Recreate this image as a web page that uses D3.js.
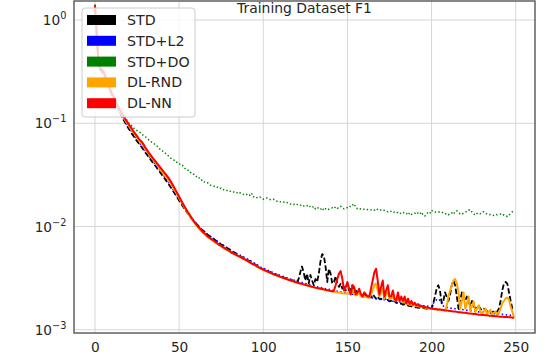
<!DOCTYPE html>
<html>
<head>
<meta charset="utf-8">
<script src="https://cdn.jsdelivr.net/npm/d3@7"></script>
<style>
  body { margin: 0; background: #fff; }
  text { font-family: "DejaVu Sans", sans-serif; fill: #262626; }
</style>
</head>
<body>
<div id="chart"></div>
<script>
// chart data (loss per epoch, 250 epochs)
var title = "Training Dataset F1";
var seriesNames = ["STD", "STD+L2", "STD+DO", "DL-RND", "DL-NN"];
var xTicks = [0, 50, 100, 150, 200, 250];
var yTicks = [1, 0.1, 0.01, 0.001];
var yTickExp = ["0", "\u22121", "\u22122", "\u22123"];

var lossSTD = [
  1.35, 0.75, 0.40, 0.33, 0.32, 0.30, 0.275, 0.25, 0.225, 0.205,
  0.187, 0.172, 0.158, 0.146, 0.135, 0.125, 0.116, 0.108, 0.101, 0.095,
  0.089, 0.084, 0.079, 0.075, 0.071, 0.067, 0.064, 0.061, 0.058, 0.055,
  0.052, 0.0495, 0.047, 0.0447, 0.0425, 0.0405, 0.0385, 0.0366, 0.0348, 0.0331,
  0.0314, 0.0298, 0.0283, 0.0268, 0.0254, 0.024, 0.0227, 0.0214, 0.0202, 0.019,
  0.0179, 0.0169, 0.0159, 0.015, 0.0142, 0.0135, 0.0128, 0.0122, 0.0117, 0.0112,
  0.0107, 0.0103, 0.0099, 0.0095, 0.0092, 0.0089, 0.0086, 0.0083, 0.0081, 0.0079,
  0.0077, 0.0075, 0.0073, 0.0071, 0.0069, 0.0067, 0.0066, 0.0064, 0.0063, 0.0061,
  0.006, 0.0058, 0.0057, 0.0056, 0.0054, 0.0053, 0.0052, 0.0051, 0.005, 0.0049,
  0.0048, 0.0047, 0.0046, 0.0045, 0.0044, 0.0043, 0.0042, 0.0041, 0.004, 0.0039,
  0.00387, 0.0038, 0.00374, 0.00368, 0.00362, 0.00356, 0.0035, 0.00345, 0.0034, 0.00335,
  0.0033, 0.00325, 0.00321, 0.00317, 0.00313, 0.00309, 0.00305, 0.00302, 0.00299, 0.00296,
  0.0029, 0.0031, 0.0036, 0.0041, 0.0036, 0.003, 0.0035, 0.0028, 0.0034, 0.003,
  0.0027, 0.0031, 0.0029, 0.0035, 0.0046, 0.0054, 0.0052, 0.0041, 0.0029, 0.0039,
  0.0035, 0.0028, 0.0029, 0.0033, 0.0028, 0.0026, 0.0028, 0.0025, 0.0027, 0.0024,
  0.0028, 0.0024, 0.0025, 0.0027, 0.0023, 0.0024, 0.0022, 0.0024, 0.0022, 0.0021,
  0.0023, 0.0021, 0.0022, 0.0021, 0.00205, 0.0022, 0.0021, 0.002, 0.0021, 0.00198,
  0.002, 0.00195, 0.0021, 0.0019, 0.00195, 0.00188, 0.0019, 0.00185, 0.0019, 0.00182,
  0.00182, 0.00178, 0.0018, 0.00175, 0.00176, 0.00172, 0.00172, 0.00169, 0.00169, 0.00167,
  0.00166, 0.00165, 0.00164, 0.00163, 0.00163, 0.00162, 0.00161, 0.0016, 0.0016, 0.00159,
  0.0016, 0.0018, 0.0021, 0.0025, 0.0027, 0.0024, 0.0018, 0.0019, 0.0023, 0.0021,
  0.0019, 0.0022, 0.0027, 0.003, 0.0027, 0.0021, 0.0016, 0.0019, 0.0023, 0.0021,
  0.0019, 0.0021, 0.0019, 0.0017, 0.0019, 0.0017, 0.0016, 0.0017, 0.0017, 0.0016,
  0.00155, 0.0016, 0.00158, 0.0015, 0.00155, 0.0015, 0.00148, 0.0015, 0.00146, 0.0015,
  0.0016, 0.0019, 0.0024, 0.0028, 0.0029, 0.0028, 0.0023, 0.0019, 0.0016, 0.00155
];

var lossL2 = [
  1.36, 0.76, 0.41, 0.335, 0.325, 0.305, 0.28, 0.252, 0.228, 0.208,
  0.19, 0.175, 0.161, 0.149, 0.138, 0.128, 0.119, 0.111, 0.104, 0.098,
  0.092, 0.087, 0.082, 0.078, 0.074, 0.07, 0.066, 0.063, 0.06, 0.057,
  0.054, 0.051, 0.0485, 0.046, 0.0438, 0.0417, 0.0397, 0.0378, 0.036, 0.0343,
  0.0326, 0.031, 0.0294, 0.0279, 0.0265, 0.025, 0.0236, 0.0222, 0.0209, 0.0197,
  0.0185, 0.0174, 0.0164, 0.0154, 0.0146, 0.0138, 0.0131, 0.0124, 0.0118, 0.0113,
  0.0108, 0.0103, 0.0099, 0.0095, 0.0092, 0.0089, 0.0086, 0.0083, 0.0081, 0.0079,
  0.0077, 0.0075, 0.0073, 0.0071, 0.0069, 0.0067, 0.0066, 0.0064, 0.0063, 0.0061,
  0.006, 0.0058, 0.0057, 0.0056, 0.0055, 0.0054, 0.0053, 0.0052, 0.0051, 0.005,
  0.0049, 0.0048, 0.0047, 0.0046, 0.0045, 0.0044, 0.0043, 0.0042, 0.0041, 0.004,
  0.00395, 0.00388, 0.00381, 0.00375, 0.00369, 0.00363, 0.00357, 0.00351, 0.00346, 0.00341,
  0.00336, 0.00331, 0.00327, 0.00322, 0.00318, 0.00314, 0.0031, 0.00306, 0.00302, 0.00299,
  0.00296, 0.00292, 0.00289, 0.00286, 0.00283, 0.0028, 0.00277, 0.00274, 0.00271, 0.00269,
  0.00266, 0.00264, 0.00261, 0.00259, 0.00257, 0.00254, 0.00252, 0.0025, 0.00248, 0.00246,
  0.00244, 0.00242, 0.0024, 0.00238, 0.00236, 0.00234, 0.00232, 0.00231, 0.00229, 0.00227,
  0.00226, 0.00224, 0.00222, 0.00221, 0.00219, 0.00218, 0.00216, 0.00215, 0.00213, 0.00212,
  0.0021, 0.00209, 0.00207, 0.00206, 0.00205, 0.00203, 0.00202, 0.00201, 0.00199, 0.00198,
  0.00197, 0.00196, 0.00195, 0.00193, 0.00192, 0.00191, 0.0019, 0.00189, 0.00188, 0.00187,
  0.00186, 0.00185, 0.00184, 0.00183, 0.00182, 0.00181, 0.0018, 0.00179, 0.00178, 0.00177,
  0.00176, 0.00175, 0.00174, 0.00173, 0.00172, 0.00171, 0.0017, 0.0017, 0.00169, 0.00168,
  0.00168, 0.0018, 0.0019, 0.00195, 0.0019, 0.00195, 0.0019, 0.0017, 0.00165, 0.00164,
  0.00163, 0.00162, 0.00161, 0.0016, 0.0016, 0.00159, 0.00158, 0.00157, 0.00157, 0.00156,
  0.00155, 0.00154, 0.00154, 0.00153, 0.00152, 0.00151, 0.00151, 0.0015, 0.00149, 0.00149,
  0.00148, 0.00147, 0.00147, 0.00146, 0.00145, 0.00145, 0.00144, 0.00144, 0.00143, 0.00142,
  0.00142, 0.00141, 0.00141, 0.0014, 0.0014, 0.00139, 0.00139, 0.00138, 0.00138, 0.00137
];

var lossDO = [
  1.42, 0.8, 0.43, 0.345, 0.335, 0.315, 0.285, 0.255, 0.23, 0.21,
  0.193, 0.178, 0.165, 0.154, 0.144, 0.135, 0.127, 0.12, 0.113, 0.107,
  0.101, 0.097, 0.094, 0.09, 0.087, 0.085, 0.083, 0.081, 0.078, 0.076,
  0.074, 0.072, 0.069, 0.067, 0.065, 0.064, 0.061, 0.06, 0.058, 0.055,
  0.054, 0.053, 0.051, 0.049, 0.048, 0.046, 0.045, 0.044, 0.042, 0.042,
  0.041, 0.039, 0.039, 0.037, 0.036, 0.035, 0.035, 0.033, 0.032, 0.032,
  0.031, 0.0294, 0.0295, 0.028, 0.0282, 0.027, 0.0263, 0.0265, 0.0255, 0.025,
  0.0248, 0.0245, 0.0238, 0.024, 0.0233, 0.0235, 0.0227, 0.0229, 0.0226, 0.022,
  0.0222, 0.0217, 0.0218, 0.0213, 0.0215, 0.0209, 0.0213, 0.0207, 0.0204, 0.0208,
  0.0205, 0.0198, 0.0201, 0.0211, 0.0194, 0.0196, 0.0191, 0.0189, 0.0193, 0.0187,
  0.0184, 0.0187, 0.0189, 0.0186, 0.0183, 0.0181, 0.0184, 0.0179, 0.0176, 0.0177,
  0.0174, 0.0172, 0.0173, 0.0169, 0.0171, 0.0167, 0.0165, 0.0166, 0.0163, 0.0167,
  0.0164, 0.0162, 0.016, 0.0163, 0.0158, 0.0161, 0.0159, 0.0162, 0.0155, 0.0152,
  0.0157, 0.0148, 0.0153, 0.015, 0.0146, 0.0152, 0.0143, 0.0149, 0.0145, 0.0147,
  0.0148, 0.0152, 0.0149, 0.0155, 0.015, 0.0153, 0.0157, 0.0151, 0.0148, 0.0149,
  0.0153, 0.0158, 0.0155, 0.0161, 0.0166, 0.0152, 0.0149, 0.0151, 0.0147, 0.0146,
  0.0147, 0.0145, 0.0146, 0.0146, 0.0145, 0.0147, 0.0144, 0.0149, 0.0146, 0.0143,
  0.0145, 0.0146, 0.0143, 0.0141, 0.0139, 0.0142, 0.014, 0.0136, 0.0138, 0.0135,
  0.0137, 0.0133, 0.0135, 0.0138, 0.0133, 0.0134, 0.0129, 0.0136, 0.0131, 0.0133,
  0.0135, 0.0131, 0.0136, 0.0132, 0.0138, 0.0129, 0.0126, 0.0133, 0.0137, 0.0134,
  0.0144, 0.0139, 0.0138, 0.0138, 0.0139, 0.0137, 0.0138, 0.0135, 0.0132, 0.0134,
  0.013, 0.0133, 0.0136, 0.0131, 0.0139, 0.0142, 0.0136, 0.0133, 0.0131, 0.0135,
  0.0137, 0.0141, 0.0144, 0.0146, 0.0138, 0.0133, 0.0129, 0.0134, 0.0136, 0.0133,
  0.0137, 0.0139, 0.0135, 0.0132, 0.013, 0.0131, 0.0129, 0.0128, 0.0131, 0.013,
  0.0131, 0.0132, 0.0128, 0.013, 0.0127, 0.0125, 0.0129, 0.0134, 0.0139, 0.0137
];

var lossRND = [
  1.38, 0.76, 0.41, 0.335, 0.33, 0.315, 0.285, 0.255, 0.23, 0.21,
  0.193, 0.178, 0.164, 0.152, 0.141, 0.131, 0.122, 0.114, 0.107, 0.101,
  0.095, 0.09, 0.085, 0.081, 0.077, 0.073, 0.069, 0.066, 0.063, 0.06,
  0.056, 0.053, 0.0505, 0.048, 0.0456, 0.0434, 0.0413, 0.0393, 0.0374, 0.0356,
  0.0339, 0.0322, 0.0306, 0.0291, 0.0276, 0.026, 0.0245, 0.023, 0.0216, 0.0202,
  0.0189, 0.0177, 0.0166, 0.0155, 0.0146, 0.0137, 0.0129, 0.0122, 0.0115, 0.0109,
  0.0104, 0.0099, 0.0095, 0.0091, 0.0088, 0.0085, 0.0082, 0.0079, 0.0077, 0.0075,
  0.0073, 0.0071, 0.0069, 0.0068, 0.0066, 0.0064, 0.0063, 0.0061, 0.006, 0.0059,
  0.0057, 0.0056, 0.0055, 0.0054, 0.0053, 0.0052, 0.0051, 0.005, 0.0049, 0.0048,
  0.0047, 0.0046, 0.0045, 0.0044, 0.0043, 0.0042, 0.00412, 0.00403, 0.00395, 0.00388,
  0.00381, 0.00375, 0.00368, 0.00362, 0.00356, 0.0035, 0.00345, 0.0034, 0.00335, 0.0033,
  0.00325, 0.0032, 0.00316, 0.00312, 0.00308, 0.00304, 0.003, 0.00297, 0.00293, 0.0029,
  0.00286, 0.00283, 0.0028, 0.00277, 0.00274, 0.00271, 0.00268, 0.00265, 0.00263, 0.0026,
  0.00258, 0.00255, 0.00253, 0.00251, 0.00249, 0.00247, 0.00245, 0.00243, 0.00241, 0.00239,
  0.00237, 0.00235, 0.00234, 0.00232, 0.0023, 0.00229, 0.00228, 0.00226, 0.00225, 0.00224,
  0.00223, 0.0023, 0.0022, 0.0024, 0.0022, 0.00215, 0.0022, 0.0023, 0.0021, 0.00208,
  0.0021, 0.00207, 0.00205, 0.00204, 0.0022, 0.0024, 0.0027, 0.0028, 0.0024, 0.0021,
  0.0023, 0.0025, 0.002, 0.0022, 0.0023, 0.00198, 0.002, 0.0021, 0.00193, 0.0019,
  0.0021, 0.00188, 0.002, 0.00185, 0.0019, 0.00178, 0.0018, 0.00174, 0.00177, 0.00171,
  0.00175, 0.00169, 0.0017, 0.00166, 0.00167, 0.00164, 0.00164, 0.00162, 0.00161, 0.0016,
  0.0016, 0.00159, 0.00158, 0.00157, 0.00156, 0.00156, 0.00155, 0.00154, 0.00154, 0.0017,
  0.0021, 0.0024, 0.0027, 0.003, 0.0031, 0.0028, 0.0023, 0.0016, 0.0019, 0.0023,
  0.0016, 0.0018, 0.0021, 0.00152, 0.0017, 0.00188, 0.00148, 0.0016, 0.00173, 0.0015,
  0.00143, 0.0015, 0.0016, 0.00142, 0.0015, 0.00156, 0.0014, 0.00146, 0.0015, 0.00139,
  0.00147, 0.0016, 0.0018, 0.0019, 0.00202, 0.00205, 0.00195, 0.00168, 0.0015, 0.0013
];

var lossNN = [
  1.40, 0.78, 0.42, 0.34, 0.335, 0.32, 0.29, 0.26, 0.235, 0.215,
  0.197, 0.182, 0.168, 0.156, 0.145, 0.134, 0.125, 0.117, 0.110, 0.104,
  0.098, 0.093, 0.088, 0.083, 0.079, 0.075, 0.071, 0.068, 0.066, 0.062,
  0.058, 0.055, 0.052, 0.0495, 0.047, 0.0448, 0.0427, 0.0407, 0.0388, 0.037,
  0.0353, 0.0337, 0.0321, 0.0306, 0.0291, 0.0274, 0.0257, 0.024, 0.0224, 0.0209,
  0.0195, 0.0182, 0.017, 0.0159, 0.0149, 0.014, 0.0132, 0.0124, 0.0117, 0.0111,
  0.0106, 0.0101, 0.0097, 0.0093, 0.0089, 0.0086, 0.0083, 0.008, 0.0078, 0.0076,
  0.0074, 0.0072, 0.007, 0.0068, 0.0066, 0.0065, 0.0063, 0.0062, 0.006, 0.0059,
  0.0058, 0.0056, 0.0055, 0.0054, 0.0053, 0.0052, 0.0051, 0.005, 0.0049, 0.0048,
  0.0047, 0.0046, 0.0045, 0.0044, 0.0043, 0.00425, 0.00415, 0.00405, 0.00397, 0.0039,
  0.00383, 0.00377, 0.0037, 0.00364, 0.00358, 0.00352, 0.00347, 0.00341, 0.00336, 0.00331,
  0.00327, 0.00322, 0.00318, 0.00313, 0.00309, 0.00305, 0.00301, 0.00298, 0.00294, 0.0029,
  0.00287, 0.00284, 0.00281, 0.00278, 0.00275, 0.00272, 0.00269, 0.00266, 0.00264, 0.00261,
  0.00259, 0.00256, 0.00254, 0.00252, 0.0025, 0.00248, 0.00246, 0.00244, 0.00242, 0.0024,
  0.00238, 0.00236, 0.0024, 0.0027, 0.0031, 0.0035, 0.0037, 0.0031, 0.0024, 0.0026,
  0.0029, 0.0025, 0.0022, 0.0027, 0.0026, 0.0022, 0.0023, 0.0025, 0.0022, 0.0021,
  0.0023, 0.0022, 0.0021, 0.0021, 0.0025, 0.003, 0.0036, 0.0039, 0.003, 0.0022,
  0.0026, 0.003, 0.0021, 0.0024, 0.0027, 0.0021, 0.0021, 0.0024, 0.002, 0.0019,
  0.0023, 0.0019, 0.0021, 0.0019, 0.0021, 0.0018, 0.002, 0.00178, 0.0019, 0.00175,
  0.00183, 0.00172, 0.00177, 0.00168, 0.00171, 0.00166, 0.00167, 0.00164, 0.00163, 0.00162,
  0.00161, 0.0016, 0.00159, 0.00158, 0.00157, 0.00157, 0.00156, 0.00155, 0.00154, 0.00154,
  0.00153, 0.00152, 0.00151, 0.0015, 0.0015, 0.00149, 0.00148, 0.00148, 0.00147, 0.00146,
  0.00146, 0.00145, 0.00144, 0.00144, 0.00143, 0.00142, 0.00142, 0.00141, 0.0014, 0.0014,
  0.00139, 0.00139, 0.00138, 0.00138, 0.00137, 0.00137, 0.00136, 0.00136, 0.00135, 0.00135,
  0.00134, 0.00134, 0.00134, 0.00133, 0.00133, 0.00133, 0.00132, 0.00132, 0.00131, 0.00131
];

// svg size and plot box
var svgWidth = 552;
var svgHeight = 356;
var margin = { top: 1, right: 17, bottom: 23, left: 74 };
var width = svgWidth - margin.left - margin.right;
var height = svgHeight - margin.top - margin.bottom;

var svg = d3.select("#chart")
  .append("svg")
  .attr("width", svgWidth)
  .attr("height", svgHeight);

var chartGroup = svg.append("g")
  .attr("transform", `translate(${margin.left}, ${margin.top})`);

// scales
var xScale = d3.scaleLinear()
  .domain([-12.45, 261.45])
  .range([0, width]);

var yScale = d3.scaleLog()
  .domain([0.00093, 1.53])
  .range([height, 0]);

// grid lines
chartGroup.append("g")
  .selectAll("line.vgrid")
  .data(xTicks)
  .enter()
  .append("line")
  .attr("x1", d => xScale(d))
  .attr("x2", d => xScale(d))
  .attr("y1", 0)
  .attr("y2", height)
  .attr("stroke", "#d6d6d6")
  .attr("stroke-width", 1);

chartGroup.append("g")
  .selectAll("line.hgrid")
  .data(yTicks)
  .enter()
  .append("line")
  .attr("x1", 0)
  .attr("x2", width)
  .attr("y1", d => yScale(d))
  .attr("y2", d => yScale(d))
  .attr("stroke", "#d6d6d6")
  .attr("stroke-width", 1);

// x axis labels
var xAxis = chartGroup.append("g")
  .attr("transform", `translate(0, ${height})`)
  .call(d3.axisBottom(xScale).tickValues(xTicks).tickSize(0).tickPadding(9));
xAxis.select(".domain").remove();
xAxis.selectAll("text")
  .attr("font-size", "13.7px")
  .attr("font-family", "DejaVu Sans, sans-serif")
  .attr("fill", "#262626");

// y axis labels, 10 with superscript exponent
var yLabels = chartGroup.append("g")
  .selectAll("text")
  .data(yTicks)
  .enter()
  .append("text")
  .attr("x", -7.5)
  .attr("y", d => yScale(d) + 5)
  .attr("text-anchor", "end")
  .attr("font-size", "13.7px");
yLabels.append("tspan").text("10");
yLabels.append("tspan")
  .attr("dy", "-6")
  .attr("font-size", "9.8px")
  .text((d, i) => yTickExp[i]);

// clip for lines
chartGroup.append("clipPath")
  .attr("id", "plotClip")
  .append("rect")
  .attr("width", width)
  .attr("height", height);

var epochs = d3.range(lossSTD.length);
var seriesData = [lossSTD, lossL2, lossDO, lossRND, lossNN];
var colors = ["#000000", "#0000ff", "#008000", "#ffa500", "#ff0000"];
var dashes = ["5.5,2.4", "1.5,2.5", "1.4,2.3", null, null];
var widths = [1.8, 1.6, 1.5, 2, 2];

var line = d3.line()
  .x((d, i) => xScale(epochs[i]))
  .y(d => yScale(d));

var linesGroup = chartGroup.append("g")
  .attr("clip-path", "url(#plotClip)");

seriesData.forEach(function(vals, k) {
  linesGroup.append("path")
    .datum(vals)
    .attr("fill", "none")
    .attr("stroke", colors[k])
    .attr("stroke-width", widths[k])
    .attr("stroke-dasharray", dashes[k])
    .attr("stroke-linejoin", "round")
    .attr("d", line);
});

// spines
chartGroup.append("rect")
  .attr("width", width)
  .attr("height", height)
  .attr("fill", "none")
  .attr("stroke", "#555555")
  .attr("stroke-width", 1.4);

// title sits inside the top of the box
chartGroup.append("text")
  .attr("x", width / 2)
  .attr("y", 11.5)
  .attr("text-anchor", "middle")
  .attr("font-size", "13.9px")
  .text(title);

// legend
var legend = chartGroup.append("g")
  .attr("transform", "translate(8, 7)");

legend.append("rect")
  .attr("width", 113)
  .attr("height", 109)
  .attr("rx", 3)
  .attr("fill", "#ffffff")
  .attr("fill-opacity", 0.8)
  .attr("stroke", "#cccccc")
  .attr("stroke-width", 1);

var legendItems = legend.selectAll("g.item")
  .data(seriesNames)
  .enter()
  .append("g")
  .attr("transform", (d, i) => `translate(0, ${12 + i * 20.8})`);

legendItems.append("rect")
  .attr("x", 5)
  .attr("y", -5)
  .attr("width", 29)
  .attr("height", 10)
  .attr("fill", (d, i) => colors[i]);

legendItems.append("text")
  .attr("x", 45)
  .attr("y", 5)
  .attr("font-size", "14.2px")
  .text(d => d);
</script>
</body>
</html>
